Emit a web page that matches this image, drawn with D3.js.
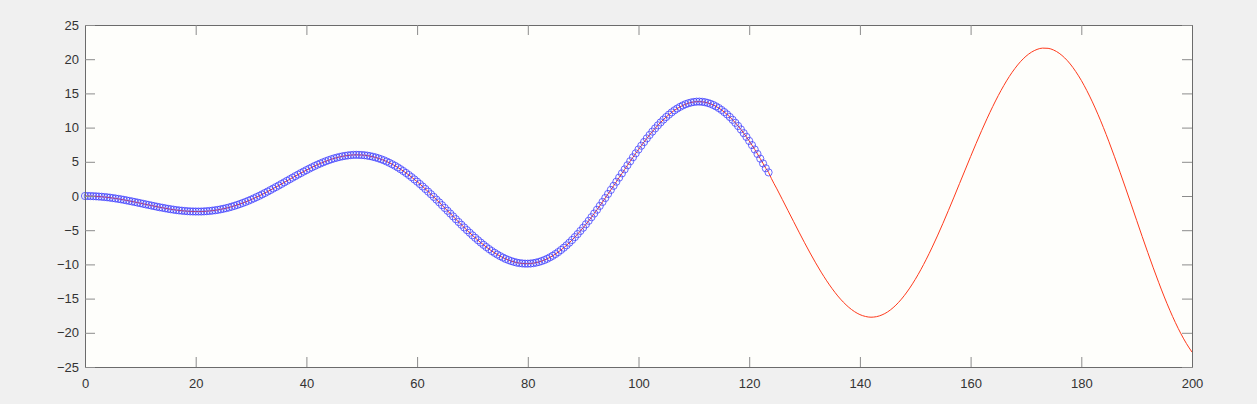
<!DOCTYPE html>
<html>
<head>
<meta charset="utf-8">
<script src="https://cdn.jsdelivr.net/npm/d3@7"></script>
<style>
  body { margin: 0; background: #f0f0f0; }
  .axis text { font-family: "Liberation Sans", Arial, sans-serif; font-size: 13px; fill: #333; }
  .axis path { stroke: #6b6b6b; }
  .axis line { stroke: #8c8c8c; }
</style>
</head>
<body>
<script>
// observed samples, t = 0 : 0.5 : 123.5
var obsStart = 0, obsStep = 0.5;
var obsY = [0, 0, -0.01, -0.03, -0.05, -0.08, -0.11, -0.15, -0.19, -0.24, -0.30, -0.36, -0.42, -0.49, -0.56, -0.64, -0.72, -0.80, -0.88, -0.97,
  -1.05, -1.14, -1.23, -1.31, -1.40, -1.48, -1.57, -1.65, -1.72, -1.80, -1.87, -1.94, -2.00, -2.06, -2.11, -2.15, -2.19, -2.22, -2.25, -2.26,
  -2.27, -2.27, -2.27, -2.25, -2.22, -2.19, -2.14, -2.09, -2.03, -1.95, -1.87, -1.78, -1.68, -1.56, -1.44, -1.31, -1.17, -1.02, -0.87, -0.70,
  -0.53, -0.35, -0.16, 0.03, 0.23, 0.44, 0.65, 0.87, 1.09, 1.31, 1.53, 1.76, 1.99, 2.22, 2.45, 2.68, 2.91, 3.13, 3.35, 3.57,
  3.78, 3.99, 4.19, 4.39, 4.58, 4.75, 4.92, 5.08, 5.23, 5.37, 5.50, 5.61, 5.71, 5.80, 5.87, 5.93, 5.98, 6.01, 6.02, 6.01,
  5.99, 5.96, 5.90, 5.83, 5.74, 5.64, 5.51, 5.37, 5.22, 5.04, 4.85, 4.64, 4.42, 4.18, 3.92, 3.65, 3.37, 3.07, 2.76, 2.43,
  2.10, 1.75, 1.39, 1.02, 0.64, 0.26, -0.13, -0.53, -0.93, -1.34, -1.75, -2.16, -2.57, -2.98, -3.39, -3.80, -4.20, -4.60, -4.99, -5.37,
  -5.75, -6.11, -6.47, -6.81, -7.14, -7.46, -7.76, -8.05, -8.31, -8.56, -8.79, -9.00, -9.20, -9.36, -9.51, -9.63, -9.74, -9.81, -9.86, -9.89,
  -9.89, -9.87, -9.82, -9.74, -9.64, -9.51, -9.36, -9.18, -8.97, -8.74, -8.48, -8.20, -7.89, -7.56, -7.21, -6.83, -6.43, -6.01, -5.57, -5.11,
  -4.64, -4.14, -3.63, -3.10, -2.56, -2.01, -1.45, -0.87, -0.29, 0.30, 0.89, 1.49, 2.09, 2.69, 3.30, 3.89, 4.49, 5.08, 5.66, 6.24,
  6.80, 7.35, 7.89, 8.42, 8.92, 9.41, 9.88, 10.33, 10.76, 11.17, 11.55, 11.90, 12.23, 12.53, 12.79, 13.03, 13.24, 13.42, 13.56, 13.67,
  13.75, 13.79, 13.80, 13.77, 13.71, 13.61, 13.48, 13.31, 13.10, 12.86, 12.58, 12.27, 11.93, 11.55, 11.14, 10.70, 10.23, 9.73, 9.19, 8.64,
  8.05, 7.44, 6.80, 6.14, 5.46, 4.76, 4.05, 3.45];

// predicted curve, t = 124 : 1 : 200
var predStart = 124, predStep = 1;
var predY = [2.57, 1.04, -0.53, -2.12, -3.70, -5.28, -6.83, -8.33, -9.77, -11.13, -12.40, -13.56, -14.61, -15.51, -16.28, -16.89,
  -17.34, -17.61, -17.72, -17.64, -17.38, -16.95, -16.33, -15.54, -14.58, -13.46, -12.19, -10.78, -9.24, -7.59, -5.84, -4.00,
  -2.10, -0.16, 1.82, 3.79, 5.76, 7.69, 9.57, 11.37, 13.08, 14.68, 16.15, 17.48, 18.64, 19.63, 20.43, 21.03, 21.43, 21.62,
  21.59, 21.34, 20.87, 20.19, 19.30, 18.19, 16.90, 15.41, 13.76, 11.95, 10.00, 7.92, 5.74, 3.48, 1.16, -1.19, -3.56, -5.92,
  -8.24, -10.50, -12.68, -14.76, -16.71, -18.51, -20.14, -21.58, -22.82];

var xTicks = [0, 20, 40, 60, 80, 100, 120, 140, 160, 180, 200];
var yTicks = [-25, -20, -15, -10, -5, 0, 5, 10, 15, 20, 25];

var obs = obsY.map(function(v, i) { return {t: obsStart + i * obsStep, y: v}; });
var pred = predY.map(function(v, i) { return {t: predStart + i * predStep, y: v}; });
var all = obs.concat(pred);

var W = 1257, H = 404;
var margin = {top: 25, right: 65, bottom: 37, left: 85};

var x = d3.scaleLinear().domain([0, 200]).range([margin.left, W - margin.right]);
var y = d3.scaleLinear().domain([-25, 25]).range([H - margin.bottom, margin.top]);

var svg = d3.select("body").append("svg")
    .attr("width", W)
    .attr("height", H);

svg.append("rect")
    .attr("x", x(0)).attr("y", y(25))
    .attr("width", x(200) - x(0)).attr("height", y(-25) - y(25))
    .attr("fill", "#fefefb");

var line = d3.line()
    .x(function(d) { return x(d.t); })
    .y(function(d) { return y(d.y); })
    .curve(d3.curveMonotoneX);

svg.append("path")
    .datum(all)
    .attr("fill", "none")
    .attr("stroke", "#ff3a1c")
    .attr("stroke-width", 1)
    .attr("d", line);

svg.selectAll(".dot")
    .data(obs)
  .enter().append("circle")
    .attr("class", "dot")
    .attr("cx", function(d) { return x(d.t); })
    .attr("cy", function(d) { return y(d.y); })
    .attr("r", 3.6)
    .attr("fill", "none")
    .attr("stroke", "#3a3aff")
    .attr("stroke-width", 0.75);

// box with inward ticks on every side
svg.append("g")
    .attr("class", "axis")
    .attr("transform", "translate(0," + y(-25) + ")")
    .call(d3.axisBottom(x).tickValues(xTicks).tickSize(-10).tickSizeOuter(0).tickPadding(12));

svg.append("g")
    .attr("class", "axis")
    .attr("transform", "translate(0," + y(25) + ")")
    .call(d3.axisTop(x).tickValues(xTicks).tickSize(-10).tickSizeOuter(0).tickFormat(""));

svg.append("g")
    .attr("class", "axis")
    .attr("transform", "translate(" + x(0) + ",0)")
    .call(d3.axisLeft(y).tickValues(yTicks).tickSize(-10).tickSizeOuter(0).tickPadding(6));

svg.append("g")
    .attr("class", "axis")
    .attr("transform", "translate(" + x(200) + ",0)")
    .call(d3.axisRight(y).tickValues(yTicks).tickSize(-10).tickSizeOuter(0).tickFormat(""));
</script>
</body>
</html>
